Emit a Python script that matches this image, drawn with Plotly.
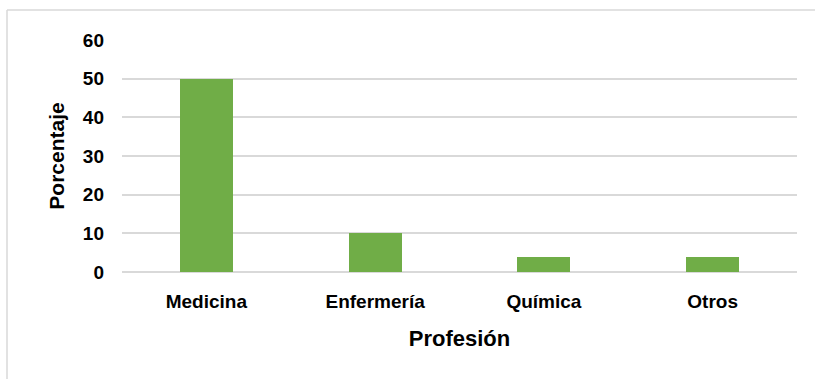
import plotly.graph_objects as go

# Distribución por profesión
profesiones = ["Medicina", "Enfermería", "Química", "Otros"]
porcentajes = [50, 10, 4, 4]
y_ticks = [0, 10, 20, 30, 40, 50, 60]

FONT = "Liberation Sans Narrow, Arial Narrow, Liberation Sans, Arial, sans-serif"
GRID = "#d9d9d9"

fig = go.Figure(
    go.Bar(
        x=profesiones,
        y=porcentajes,
        marker=dict(color="#70ad47", line=dict(width=0)),
        width=0.314,
    )
)

W, H = 815, 379
L, R, T, B = 122, 18, 40, 107
pw, ph = W - L - R, H - T - B

# chart frame (left and top edges visible)
fx = (7 - L) / pw
fy = 1 + (T - 10) / ph
fig.add_shape(type="line", xref="paper", yref="paper",
              x0=fx, x1=fx, y0=-1, y1=fy, line=dict(color=GRID, width=1.5))
fig.add_shape(type="line", xref="paper", yref="paper",
              x0=fx, x1=1.2, y0=fy, y1=fy, line=dict(color=GRID, width=1.5))

fig.update_layout(
    width=W, height=H,
    margin=dict(l=L, r=R, t=T, b=B),
    paper_bgcolor="white", plot_bgcolor="white",
    font=dict(family=FONT, size=19, color="#000000"),
    showlegend=False,
    bargap=0,
)
fig.update_xaxes(
    showgrid=False, showline=False, zeroline=False,
    tickfont=dict(family=FONT, size=19, color="#000", weight="bold"),
    ticklabelstandoff=16,
    title=dict(text="Profesión", font=dict(family=FONT, size=22, color="#000", weight="bold"),
               standoff=19),
)
fig.update_yaxes(
    range=[0, 60], tickvals=y_ticks,
    showgrid=True, gridcolor=GRID, gridwidth=1.5,
    zeroline=True, zerolinecolor=GRID, zerolinewidth=1.5,
    showline=False,
    tickfont=dict(family=FONT, size=19, color="#000", weight="bold"),
    ticklabelstandoff=17,
    title=dict(text="Porcentaje", font=dict(family=FONT, size=21, color="#000", weight="bold"),
               standoff=12),
)

fig.write_html("out.html")
